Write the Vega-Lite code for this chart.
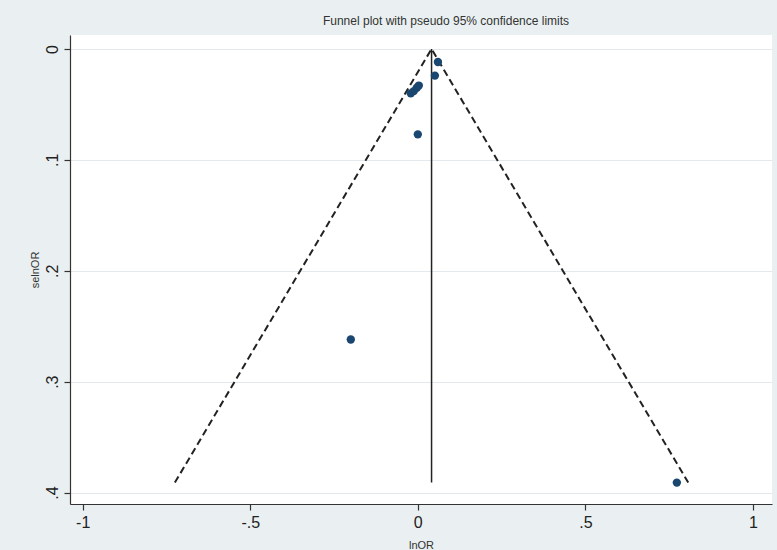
{
  "$schema": "https://vega.github.io/schema/vega-lite/v6.json",
  "width": 702,
  "height": 469,
  "autosize": {"type": "none"},
  "padding": {"left": 70, "top": 35, "right": 5, "bottom": 46},
  "background": "#eaf0f1",
  "view": {"fill": "white", "stroke": null},
  "title": {"text": "Funnel plot with pseudo 95% confidence limits", "anchor": "middle", "dx": 25, "offset": 7, "fontSize": 12, "fontWeight": "normal", "font": "Liberation Sans", "color": "#333333"},
  "config": {
    "axis": {"labelFont": "Liberation Sans", "titleFont": "Liberation Sans", "labelColor": "#222222", "titleColor": "#333333", "domainColor": "#333333", "tickColor": "#333333", "labelFontSize": 16, "titleFontSize": 11, "titleFontWeight": "normal", "tickSize": 6, "domainWidth": 1.2, "tickWidth": 1.2}
  },
  "datasets": {
    "studies": [
      {"lnOR": 0.060, "selnOR": 0.0117},
      {"lnOR": 0.051, "selnOR": 0.024},
      {"lnOR": -0.021, "selnOR": 0.040},
      {"lnOR": -0.012, "selnOR": 0.038},
      {"lnOR": -0.003, "selnOR": 0.035},
      {"lnOR": 0.003, "selnOR": 0.033},
      {"lnOR": 0.000, "selnOR": 0.077},
      {"lnOR": -0.200, "selnOR": 0.262},
      {"lnOR": 0.773, "selnOR": 0.391}
    ],
    "funnel": [
      {"x": -0.725, "y": 0.391, "o": 1},
      {"x": 0.041, "y": 0.0, "o": 2},
      {"x": 0.807, "y": 0.391, "o": 3}
    ],
    "pooled": [
      {"x": 0.041, "y": 0.0, "y2": 0.391}
    ]
  },
  "layer": [
    {
      "data": {"name": "pooled"},
      "mark": {"type": "rule", "color": "#222222", "strokeWidth": 1.5},
      "encoding": {
        "x": {"field": "x", "type": "quantitative", "scale": {"domain": [-1.038, 1.057], "nice": false, "zero": false},
              "axis": {"values": [-1, -0.5, 0, 0.5, 1], "grid": false, "title": "lnOR", "titlePadding": 9,
                       "labelExpr": "datum.value == 0 ? '0' : replace(toString(datum.value), '0.', '.')", "labelPadding": 4}},
        "y": {"field": "y", "type": "quantitative", "scale": {"domain": [-0.0126, 0.4103], "reverse": true, "nice": false, "zero": false},
              "axis": {"values": [0, 0.1, 0.2, 0.3, 0.4], "grid": true, "gridColor": "#e3e9eb", "gridWidth": 1, "title": "selnOR", "titlePadding": 4,
                       "labelAngle": 270, "labelAlign": "center", "labelBaseline": "bottom", "labelPadding": 4,
                       "labelExpr": "datum.value == 0 ? '0' : replace(toString(datum.value), '0.', '.')"}},
        "y2": {"field": "y2"}
      }
    },
    {
      "data": {"name": "funnel"},
      "mark": {"type": "line", "color": "#222222", "strokeWidth": 2, "strokeDash": [7, 4]},
      "encoding": {
        "x": {"field": "x", "type": "quantitative"},
        "y": {"field": "y", "type": "quantitative"},
        "order": {"field": "o"}
      }
    },
    {
      "data": {"name": "studies"},
      "mark": {"type": "point", "filled": true, "opacity": 1, "color": "#1a476f", "size": 70},
      "encoding": {
        "x": {"field": "lnOR", "type": "quantitative"},
        "y": {"field": "selnOR", "type": "quantitative"}
      }
    }
  ]
}
